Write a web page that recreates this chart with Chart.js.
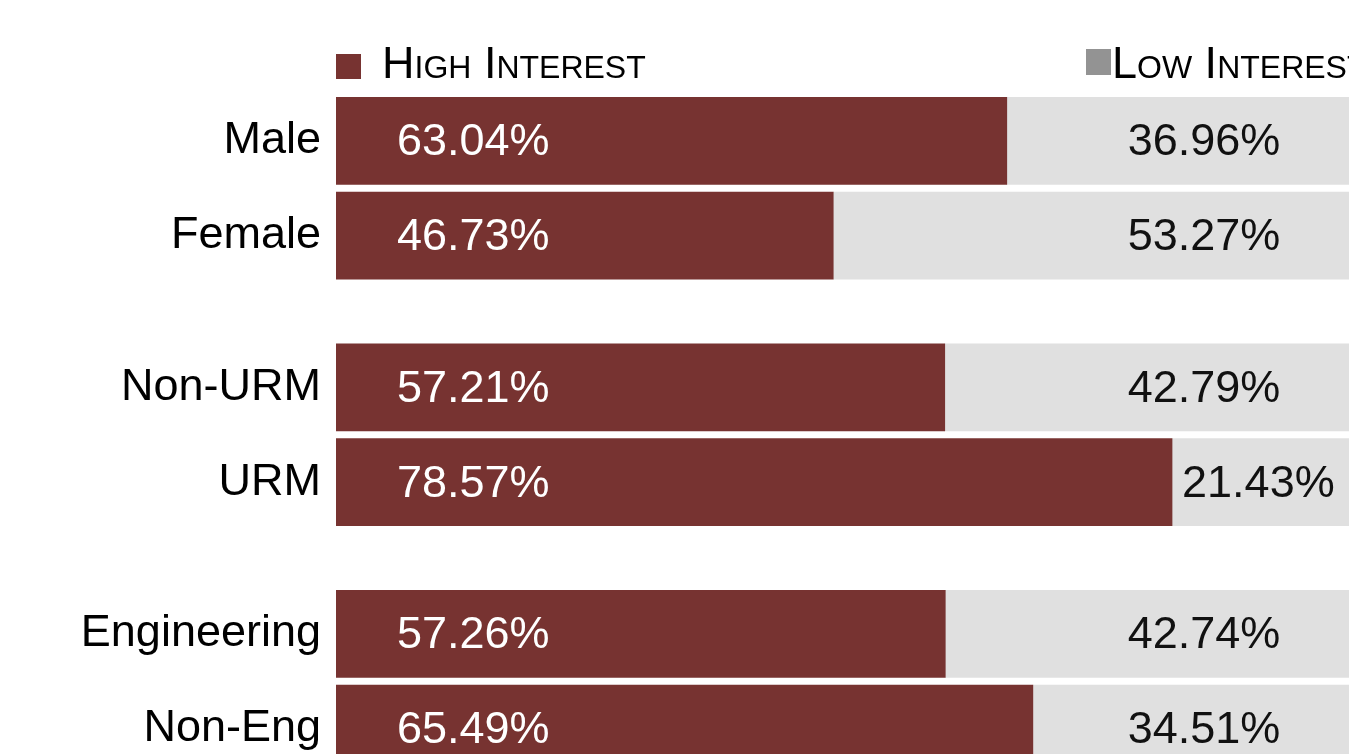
<!DOCTYPE html>
<html>
<head>
<meta charset="utf-8">
<script src="https://cdn.jsdelivr.net/npm/chart.js@4/dist/chart.umd.min.js"></script>
<style>
  html, body { margin: 0; padding: 0; background: #fff; overflow: hidden; }
  #wrap { position: relative; width: 1349px; height: 754px; }
  .lg-sq { position: absolute; }
  .lg-tx { position: absolute; font-family: "Liberation Sans", Arial, sans-serif; font-size: 45px; line-height: 46px; font-variant: small-caps; color: #000; white-space: nowrap; }
</style>
</head>
<body>
<div id="wrap">
  <canvas id="c" width="1349" height="754"></canvas>
  <div class="lg-sq" style="left:336px;top:54px;width:25px;height:25px;background:#773331;"></div>
  <div class="lg-tx" style="left:382px;top:40px;">High Interest</div>
  <div class="lg-sq" style="left:1086px;top:49px;width:25px;height:26px;background:#939393;"></div>
  <div class="lg-tx" style="left:1112px;top:40px;">Low Interest</div>
</div>
<script>
const categories = ['Male', 'Female', 'Non-URM', 'URM', 'Engineering', 'Non-Eng'];
const groupIds = [0, 0, 1, 1, 2, 2];
const highInterest = [63.04, 46.73, 57.21, 78.57, 57.26, 65.49];
const lowInterest = [36.96, 53.27, 42.79, 21.43, 42.74, 34.51];

const GROUP_GAP = 0.6;
const rowPos = categories.map((c, i) => i + groupIds[i] * GROUP_GAP);
const fmt = v => v.toFixed(2) + '%';
const FONT = '"Liberation Sans", Arial, sans-serif';

const labelPlugin = {
  id: 'barLabels',
  afterDatasetsDraw(chart) {
    const ctx = chart.ctx;
    const xs = chart.scales.x;
    const meta = chart.getDatasetMeta(0);
    ctx.save();
    ctx.font = '45px ' + FONT;
    ctx.textBaseline = 'middle';
    meta.data.forEach((bar, i) => {
      ctx.fillStyle = '#ffffff';
      ctx.textAlign = 'left';
      ctx.fillText(fmt(highInterest[i]), bar.base + 61, bar.y + 2);
      const txt = fmt(lowInterest[i]);
      const w = ctx.measureText(txt).width;
      const left = Math.max(xs.getPixelForValue(100) - 196 - w / 2, bar.x + 10);
      ctx.fillStyle = '#111111';
      ctx.textAlign = 'left';
      ctx.fillText(txt, left, bar.y + 2);
    });
    ctx.restore();
  }
};

new Chart(document.getElementById('c'), {
  type: 'bar',
  data: {
    datasets: [
      { label: 'High Interest', data: highInterest.map((v, i) => ({ x: v, y: rowPos[i] })), backgroundColor: '#773331', borderWidth: 0, barThickness: 87 },
      { label: 'Low Interest', data: lowInterest.map((v, i) => ({ x: v, y: rowPos[i] })), backgroundColor: '#e0e0e0', borderWidth: 0, barThickness: 87 }
    ]
  },
  options: {
    indexAxis: 'y',
    responsive: false,
    animation: false,
    layout: { padding: { top: 84, right: 0, bottom: 0, left: 0 } },
    plugins: { legend: { display: false }, tooltip: { enabled: false } },
    scales: {
      x: { type: 'linear', stacked: true, min: 0, max: 95.2, display: false },
      y: {
        type: 'linear', stacked: true, reverse: true, offset: false, min: -0.6, max: 6.468,
        grid: { display: false, drawTicks: false, offset: false },
        border: { display: false },
        afterBuildTicks: s => { s.ticks = rowPos.map(v => ({ value: v })); },
        afterFit: s => { s.width = 336; s.paddingTop = 0; s.paddingBottom = 0; },
        ticks: {
          autoSkip: false, padding: 15, color: '#000',
          font: { family: FONT, size: 45 },
          callback: (v, i) => categories[i]
        }
      }
    }
  },
  plugins: [labelPlugin]
});
</script>
</body>
</html>
